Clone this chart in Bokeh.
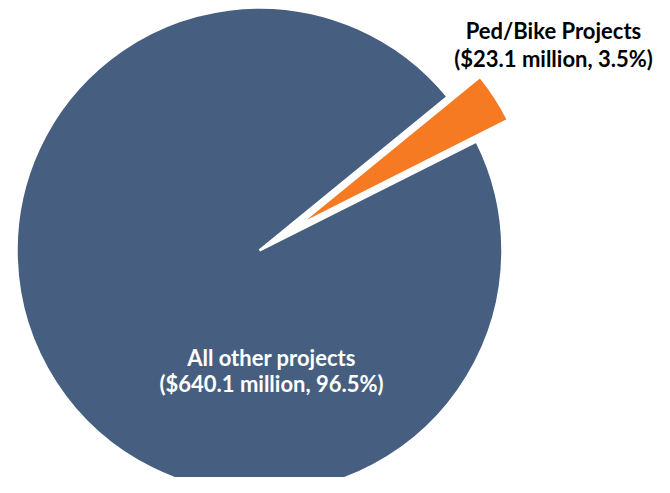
import math
from bokeh.plotting import figure
from bokeh.models import Range1d
from bokeh.core.properties import value
from bokeh.embed import file_html
from bokeh.resources import INLINE

# ---- data ----
categories = ["Ped/Bike Projects", "All other projects"]
amounts_musd = [23.1, 640.1]
colors = ["#F57A22", "#465F80"]

total = sum(amounts_musd)
shares = [a / total for a in amounts_musd]

# ---- layout/style ----
W, H = 654, 477
cx, cy = 259, 227
R_main = 243
R_expl = 236
explode = 45
start_deg = 26.7

p = figure(width=W, height=H, output_backend="svg", toolbar_location=None,
           x_axis_type=None, y_axis_type=None, min_border=0,
           x_range=Range1d(0, W), y_range=Range1d(0, H))
p.grid.visible = False
p.outline_line_color = None
p.background_fill_color = "white"

start = math.radians(start_deg)
angles = []
a = start
for s in shares:
    angles.append((a, a + s * 2 * math.pi))
    a += s * 2 * math.pi

# orange exploded slice
s0, e0 = angles[0]
mid = (s0 + e0) / 2
ox = cx + explode * math.cos(mid)
oy = cy + explode * math.sin(mid)
p.wedge(x=[ox], y=[oy], radius=R_expl, start_angle=[s0], end_angle=[e0],
        fill_color=colors[0], line_color="white", line_width=2.5)

# main slice
s1, e1 = angles[1]
p.wedge(x=[cx], y=[cy], radius=R_main, start_angle=[s1], end_angle=[e1],
        fill_color=colors[1], line_color="white", line_width=2.5)

def lab(i):
    return "(${:.1f} million, {:.1f}%)".format(amounts_musd[i], shares[i] * 100)

font = value("Lato")
p.text(x=[553, 553], y=[447, 419], text=[categories[0], lab(0)],
       text_font=font, text_font_style="bold", text_font_size="22px",
       text_color="black", text_align="center", text_baseline="alphabetic")
p.text(x=[271, 271], y=[120, 94], text=[categories[1], lab(1)],
       text_font=font, text_font_style="bold", text_font_size="22px",
       text_color="white", text_align="center", text_baseline="alphabetic")

open("out.html", "w").write(file_html(p, INLINE))
